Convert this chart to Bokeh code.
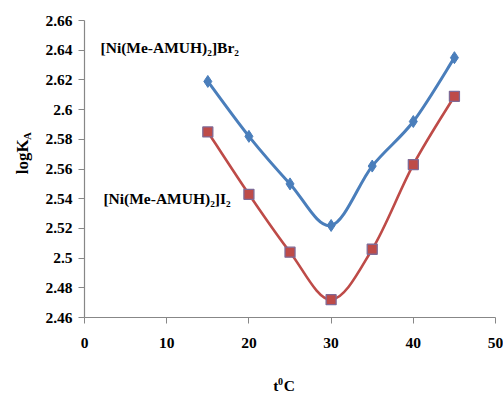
from bokeh.plotting import figure
from bokeh.models import Label, FixedTicker, LinearAxis
from bokeh.embed import file_html
from bokeh.resources import INLINE
import math

temps = [15, 20, 25, 30, 35, 40, 45]
br_vals = [2.619, 2.582, 2.550, 2.522, 2.562, 2.592, 2.635]
i_vals = [2.585, 2.543, 2.504, 2.472, 2.506, 2.563, 2.609]
x_ticks = [0, 10, 20, 30, 40, 50]
y_ticks = [2.46, 2.48, 2.50, 2.52, 2.54, 2.56, 2.58, 2.60, 2.62, 2.64, 2.66]
y_tick_labels = ["2.46", "2.48", "2.5", "2.52", "2.54", "2.56", "2.58", "2.6", "2.62", "2.64", "2.66"]
series_names = ["[Ni(Me-AMUH)\u2082]Br\u2082", "[Ni(Me-AMUH)\u2082]I\u2082"]

BLUE = "#4A7EBB"
RED = "#BE4B48"
FONT = "Liberation Serif"

# frame covers the whole canvas; axes are pinned at x=0 / y=2.46
p = figure(width=503, height=395, x_range=(-10.22, 50.97), y_range=(2.4075, 2.6735),
           output_backend="svg", toolbar_location=None,
           x_axis_location=None, y_axis_location=None,
           min_border=0)
p.outline_line_color = None
p.grid.visible = False
p.background_fill_color = "white"
p.border_fill_color = "white"

xax = LinearAxis(fixed_location=2.46, bounds=(0, 50), ticker=FixedTicker(ticks=x_ticks))
yax = LinearAxis(fixed_location=0, bounds=(2.46, 2.66), ticker=FixedTicker(ticks=y_ticks))
for ax in (xax, yax):
    ax.axis_line_color = "#878787"
    ax.axis_line_width = 1.2
    ax.major_tick_line_color = "#878787"
    ax.major_tick_in = 0
    ax.major_tick_out = 6
    ax.minor_tick_line_color = None
    ax.major_label_text_font = FONT
    ax.major_label_text_font_style = "bold"
    ax.major_label_text_font_size = "15.5px"
    ax.major_label_text_color = "black"
xax.major_label_standoff = 14
yax.major_label_standoff = 6
yax.major_label_overrides = {t: s for t, s in zip(y_ticks, y_tick_labels)}
p.add_layout(xax, "below")
p.add_layout(yax, "left")


def smooth(xs, ys):
    # Catmull-Rom style bezier segments (Excel-like smoothing)
    n = len(xs)
    segs = {"x0": [], "y0": [], "x1": [], "y1": [], "cx0": [], "cy0": [], "cx1": [], "cy1": []}
    for i in range(n - 1):
        xa, ya = xs[i], ys[i]
        xb, yb = xs[i + 1], ys[i + 1]
        xp, yp = (xs[i - 1], ys[i - 1]) if i > 0 else (xa, ya)
        xn, yn = (xs[i + 2], ys[i + 2]) if i + 2 < n else (xb, yb)
        segs["x0"].append(xa); segs["y0"].append(ya)
        segs["x1"].append(xb); segs["y1"].append(yb)
        segs["cx0"].append(xa + (xb - xp) / 6); segs["cy0"].append(ya + (yb - yp) / 6)
        segs["cx1"].append(xb - (xn - xa) / 6); segs["cy1"].append(yb - (yn - ya) / 6)
    return segs


for vals, col, lw in ((br_vals, BLUE, 3), (i_vals, RED, 2.6)):
    s = smooth(temps, vals)
    p.bezier(x0=s["x0"], y0=s["y0"], x1=s["x1"], y1=s["y1"],
             cx0=s["cx0"], cy0=s["cy0"], cx1=s["cx1"], cy1=s["cy1"],
             line_color=col, line_width=lw)

p.scatter(temps, br_vals, marker="diamond", size=12, fill_color=BLUE, line_color=BLUE)
p.scatter(temps, i_vals, marker="square", size=10, fill_color=RED, line_color="#7F6A96", line_width=1.3)

p.add_layout(Label(x=1.95, y=2.642, text=series_names[0], text_font=FONT, text_font_style="bold",
                   text_font_size="15.5px", text_baseline="middle", text_color="black"))
p.add_layout(Label(x=2.3, y=2.540, text=series_names[1], text_font=FONT, text_font_style="bold",
                   text_font_size="15.5px", text_baseline="middle", text_color="black"))

# y axis title: logK with subscript A
p.add_layout(Label(x=-7.6, y=2.5565, text="logK", angle=math.pi / 2,
                   text_font=FONT, text_font_style="bold", text_font_size="17px",
                   text_align="left", text_baseline="middle", text_color="black"))
p.add_layout(Label(x=-7.05, y=2.5795, text="A", angle=math.pi / 2,
                   text_font=FONT, text_font_style="bold", text_font_size="11px",
                   text_align="left", text_baseline="middle", text_color="black"))

# x axis title: t with superscript 0, then C
p.add_layout(Label(x=22.95, y=2.4142, text="t",
                   text_font=FONT, text_font_style="bold", text_font_size="15.5px",
                   text_align="left", text_baseline="middle", text_color="black"))
p.add_layout(Label(x=23.55, y=2.4168, text="0",
                   text_font=FONT, text_font_style="bold", text_font_size="10px",
                   text_align="left", text_baseline="middle", text_color="black"))
p.add_layout(Label(x=24.25, y=2.4142, text="C",
                   text_font=FONT, text_font_style="bold", text_font_size="15.5px",
                   text_align="left", text_baseline="middle", text_color="black"))

open("out.html", "w").write(file_html(p, INLINE))
